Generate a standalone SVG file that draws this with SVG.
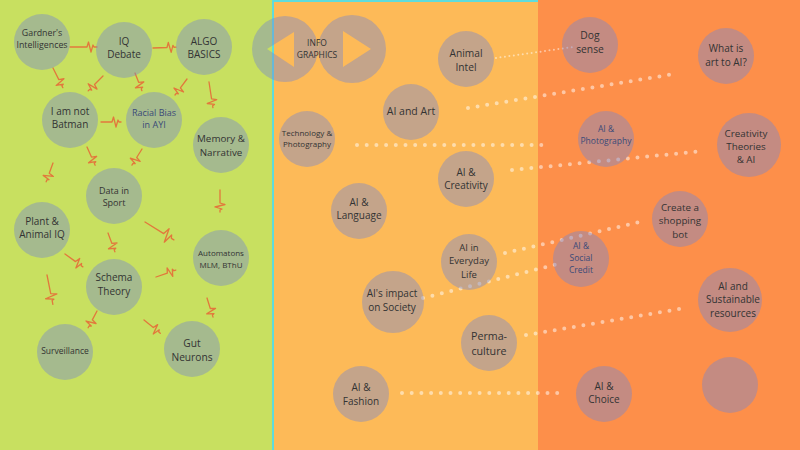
<svg xmlns="http://www.w3.org/2000/svg" width="800" height="450" viewBox="0 0 800 450">
<style>
.node{fill:#7485cf;fill-opacity:0.42}
.t{font-family:"Open Sans","Noto Sans","DejaVu Sans",sans-serif;fill:#333;text-anchor:middle}
.tb{fill:#3a4a78}
.zz{fill:none;stroke:#e2783c;stroke-width:1.3;stroke-linejoin:round;stroke-linecap:round}
.dot{fill:none;stroke:#ffffff;stroke-opacity:0.5;stroke-width:4;stroke-linecap:round;stroke-dasharray:0 9.7}
.dots{fill:none;stroke:#ffffff;stroke-opacity:0.5;stroke-width:2;stroke-linecap:round;stroke-dasharray:0 4.5}
</style>
<g id="background">
<rect x="0" y="0" width="272" height="450" fill="#c8e060"/>
<rect x="272" y="0" width="266" height="450" fill="#fdba58"/>
<rect x="538" y="0" width="262" height="450" fill="#fd8f4a"/>
<path d="M273 450V1H538" fill="none" stroke="#5fdcdc" stroke-width="2"/>
</g>
<g id="connectors">
<path class="zz" transform="translate(70,47)" d="M0 0H17l1.5 -5l2.5 10l2 -7l1 2H27"/>
<path class="zz" transform="translate(153,48) rotate(-2)" d="M0 0H14l1.5 -5l2.5 10l2 -7l1 2H23"/>
<path class="zz" transform="translate(53,68) rotate(63.4)" d="M0 0H13l1.5 -5l2.5 10l2 -7l1 2H22"/>
<path class="zz" transform="translate(103,76) rotate(135)" d="M0 0H12l1.5 -5l2.5 10l2 -7l1 2H21"/>
<path class="zz" transform="translate(135,73) rotate(68.7)" d="M0 0H10l1.5 -5l2.5 10l2 -7l1 2H19"/>
<path class="zz" transform="translate(187,79) rotate(126.9)" d="M0 0H11l1.5 -5l2.5 10l2 -7l1 2H20"/>
<path class="zz" transform="translate(209,82) rotate(81.3)" d="M0 0H17l1.5 -5l2.5 10l2 -7l1 2H26"/>
<path class="zz" transform="translate(101,122)" d="M0 0H11l1.5 -5l2.5 10l2 -7l1 2H20"/>
<path class="zz" transform="translate(87,147) rotate(66)" d="M0 0H11l1.5 -5l2.5 10l2 -7l1 2H20"/>
<path class="zz" transform="translate(142,149) rotate(122)" d="M0 0H10l1.5 -5l2.5 10l2 -7l1 2H19"/>
<path class="zz" transform="translate(53,163) rotate(110)" d="M0 0H11l1.5 -5l2.5 10l2 -7l1 2H20"/>
<path class="zz" transform="translate(220,190) rotate(90)" d="M0 0H13l1.5 -5l2.5 10l2 -7l1 2H22"/>
<path class="zz" transform="translate(145,222) rotate(31.8)" d="M0 0H22l2 -7l3 14l2.5 -10l1.5 3H34"/>
<path class="zz" transform="translate(108,233) rotate(69.8)" d="M0 0H11l1.5 -5l2.5 10l2 -7l1 2H20"/>
<path class="zz" transform="translate(65,254) rotate(35.8)" d="M0 0H13l1.5 -5l2.5 10l2 -7l1 2H22"/>
<path class="zz" transform="translate(47,275) rotate(78.7)" d="M0 0H19l1.5 -6l2.5 12l2 -8l1 2H30"/>
<path class="zz" transform="translate(156,277) rotate(-19.3)" d="M0 0H12l1.5 -5l2.5 10l2 -7l1 2H21"/>
<path class="zz" transform="translate(207,298) rotate(72.5)" d="M0 0H11l1.5 -5l2.5 10l2 -7l1 2H20"/>
<path class="zz" transform="translate(97,311) rotate(117.9)" d="M0 0H10l1.5 -5l2.5 10l2 -7l1 2H19"/>
<path class="zz" transform="translate(144,320) rotate(39.1)" d="M0 0H12l1.5 -5l2.5 10l2 -7l1 2H21"/>
<path class="dots" d="M496 58L573 47"/>
<path class="dot" d="M468 108L674 74"/>
<path class="dot" d="M357 145L550 145"/>
<path class="dot" d="M512 170L703 151"/>
<path class="dot" d="M505 253L640 222"/>
<path class="dot" d="M423 298L558 264"/>
<path class="dot" d="M526 335L685 308"/>
<path class="dot" d="M402 393L564 393"/>
</g>
<g id="n-gardner"><circle class="node" cx="42" cy="42" r="28"/><text class="t" font-size="8.8"><tspan x="42" y="36">Gardner's</tspan><tspan x="42" y="48">Intelligences</tspan></text></g>
<g id="n-iq"><circle class="node" cx="124" cy="50" r="28"/><text class="t" font-size="10"><tspan x="124" y="44.5">IQ</tspan><tspan x="124" y="58.2">Debate</tspan></text></g>
<g id="n-algo"><circle class="node" cx="204" cy="47" r="28"/><text class="t" font-size="10"><tspan x="204" y="44.5">ALGO</tspan><tspan x="204" y="58.2">BASICS</tspan></text></g>
<g id="n-batman"><circle class="node" cx="70" cy="120" r="28"/><text class="t" font-size="10"><tspan x="70" y="114.5">I am not</tspan><tspan x="70" y="128.2">Batman</tspan></text></g>
<g id="n-racial"><circle class="node" cx="154" cy="120" r="28"/><text class="t tb" font-size="9"><tspan x="154" y="115.5">Racial Bias</tspan><tspan x="154" y="128">in AYI</tspan></text></g>
<g id="n-memory"><circle class="node" cx="221" cy="145" r="28"/><text class="t" font-size="9.8"><tspan x="221" y="142">Memory &amp;</tspan><tspan x="221" y="155.5">Narrative</tspan></text></g>
<g id="n-data"><circle class="node" cx="114" cy="196" r="28"/><text class="t" font-size="9"><tspan x="114" y="194">Data in</tspan><tspan x="114" y="206.4">Sport</tspan></text></g>
<g id="n-plant"><circle class="node" cx="42" cy="230" r="28"/><text class="t" font-size="10"><tspan x="42" y="224.5">Plant &amp;</tspan><tspan x="42" y="238.2">Animal IQ</tspan></text></g>
<g id="n-schema"><circle class="node" cx="114" cy="287" r="28"/><text class="t" font-size="10"><tspan x="114" y="281">Schema</tspan><tspan x="114" y="294.7">Theory</tspan></text></g>
<g id="n-automatons"><circle class="node" cx="221" cy="258" r="28"/><text class="t" font-size="8"><tspan x="221" y="256">Automatons</tspan><tspan x="221" y="268">MLM, BThU</tspan></text></g>
<g id="n-surveillance"><circle class="node" cx="65" cy="352" r="28"/><text class="t" font-size="8.5"><tspan x="65" y="354">Surveillance</tspan></text></g>
<g id="n-gut"><circle class="node" cx="192" cy="349" r="28"/><text class="t" font-size="10.2"><tspan x="192" y="346.5">Gut</tspan><tspan x="192" y="360.5">Neurons</tspan></text></g>
<g id="n-infographics">
<path class="node" fill-rule="evenodd" d="M252 49a33 33 0 1 0 66 0a33 33 0 1 0 -66 0ZM267 49L294 32L294 67Z"/>
<path class="node" fill-rule="evenodd" d="M318 49a34 34 0 1 0 68 0a34 34 0 1 0 -68 0ZM343 31L343 67L371 49Z"/>
<text class="t" font-size="8.5"><tspan x="317" y="46">INFO</tspan><tspan x="317" y="58">GRAPHICS</tspan></text>
</g>
<g id="n-animal"><circle class="node" cx="466" cy="59" r="28"/><text class="t" font-size="10.2"><tspan x="466" y="56.5">Animal</tspan><tspan x="466" y="70.5">Intel</tspan></text></g>
<g id="n-aiart"><circle class="node" cx="411" cy="112" r="28"/><text class="t" font-size="10.5"><tspan x="411" y="115">AI and Art</tspan></text></g>
<g id="n-techphoto"><circle class="node" cx="307" cy="139" r="28"/><text class="t" font-size="8"><tspan x="307" y="136">Technology &amp;</tspan><tspan x="307" y="147">Photography</tspan></text></g>
<g id="n-aicreativity"><circle class="node" cx="466" cy="179" r="28"/><text class="t" font-size="10"><tspan x="466" y="175.5">AI &amp;</tspan><tspan x="466" y="189.2">Creativity</tspan></text></g>
<g id="n-ailanguage"><circle class="node" cx="359" cy="211" r="28"/><text class="t" font-size="10"><tspan x="359" y="205.5">AI &amp;</tspan><tspan x="359" y="219.2">Language</tspan></text></g>
<g id="n-everyday"><circle class="node" cx="469" cy="262" r="28"/><text class="t" font-size="9.5"><tspan x="469" y="250.5">AI in</tspan><tspan x="469" y="264">Everyday</tspan><tspan x="469" y="277.5">Life</tspan></text></g>
<g id="n-society"><circle class="node" cx="393" cy="302" r="31"/><text class="t" font-size="10"><tspan x="392" y="296.5">AI's impact</tspan><tspan x="392" y="310.5">on Society</tspan></text></g>
<g id="n-perma"><circle class="node" cx="489" cy="343" r="28"/><text class="t" font-size="10.7"><tspan x="489" y="339.5">Perma-</tspan><tspan x="489" y="354.5">culture</tspan></text></g>
<g id="n-fashion"><circle class="node" cx="361" cy="394" r="28"/><text class="t" font-size="10"><tspan x="361" y="391">AI &amp;</tspan><tspan x="361" y="404.7">Fashion</tspan></text></g>
<g id="n-dog"><circle class="node" cx="590" cy="45" r="28"/><text class="t" font-size="10.3"><tspan x="590" y="39">Dog</tspan><tspan x="590" y="53">sense</tspan></text></g>
<g id="n-whatart"><circle class="node" cx="726" cy="56" r="28"/><text class="t" font-size="10"><tspan x="726" y="52">What is</tspan><tspan x="726" y="65.7">art to AI?</tspan></text></g>
<g id="n-aiphoto"><circle class="node" cx="606" cy="139" r="28"/><text class="t tb" font-size="8.5"><tspan x="606" y="132">AI &amp;</tspan><tspan x="606" y="144">Photography</tspan></text></g>
<g id="n-creativity"><circle class="node" cx="749" cy="145" r="32"/><text class="t" font-size="9.8"><tspan x="746" y="136.5">Creativity</tspan><tspan x="746" y="149.9">Theories</tspan><tspan x="746" y="163.3">&amp; AI</tspan></text></g>
<g id="n-shopping"><circle class="node" cx="680" cy="219" r="28"/><text class="t" font-size="9.8"><tspan x="680" y="210.5">Create a</tspan><tspan x="680" y="224">shopping</tspan><tspan x="680" y="237.5">bot</tspan></text></g>
<g id="n-social"><circle class="node" cx="581" cy="259" r="28"/><text class="t tb" font-size="8.5"><tspan x="581" y="249">AI &amp;</tspan><tspan x="581" y="260.8">Social</tspan><tspan x="581" y="272.6">Credit</tspan></text></g>
<g id="n-sustainable"><circle class="node" cx="730" cy="300" r="32"/><text class="t" font-size="10"><tspan x="733" y="289.5">AI and</tspan><tspan x="733" y="303.2">Sustainable</tspan><tspan x="733" y="316.9">resources</tspan></text></g>
<g id="n-choice"><circle class="node" cx="604" cy="394" r="28"/><text class="t" font-size="10"><tspan x="604" y="389.5">AI &amp;</tspan><tspan x="604" y="403.2">Choice</tspan></text></g>
<g id="n-empty"><circle class="node" cx="730" cy="385" r="28"/></g>
</svg>
